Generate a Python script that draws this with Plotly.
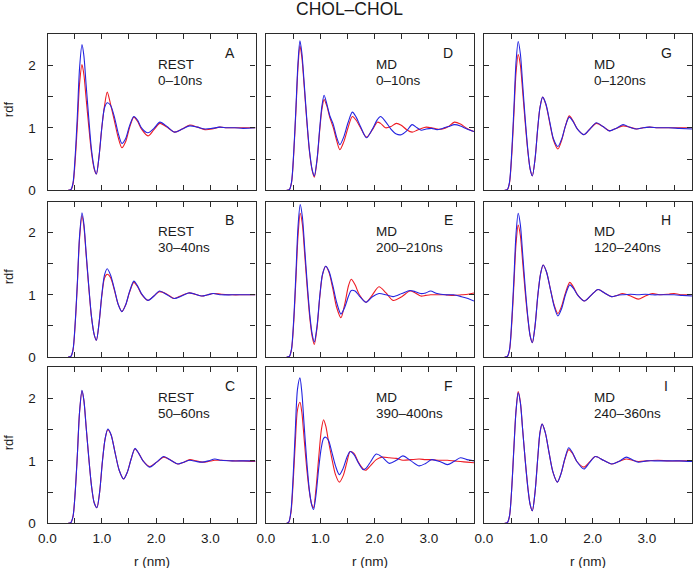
import plotly.graph_objects as go

# ---------------- data ----------------
r_A = [0.38, 0.43, 0.47, 0.51, 0.55, 0.59, 0.635, 0.67, 0.71, 0.76, 0.81, 0.86, 0.90, 0.95, 1.00, 1.05, 1.10, 1.16, 1.23, 1.30, 1.37, 1.44, 1.51, 1.59, 1.66, 1.73, 1.85, 1.96, 2.07, 2.2, 2.34, 2.48, 2.62, 2.76, 2.90, 3.03, 3.17, 3.3, 3.45, 3.6, 3.83]
red_A = [0, 0.01, 0.10, 0.48, 1.05, 1.70, 2.01, 1.85, 1.48, 1.02, 0.6, 0.34, 0.26, 0.55, 1.0, 1.35, 1.57, 1.38, 1.12, 0.85, 0.68, 0.78, 1.0, 1.17, 1.1, 0.98, 0.87, 0.97, 1.07, 1.01, 0.93, 0.98, 1.045, 1.01, 0.97, 0.98, 1.01, 1.0, 1.0, 1.0, 1.0]
blue_A = [0, 0.01, 0.12, 0.55, 1.2, 1.95, 2.33, 2.15, 1.7, 1.15, 0.65, 0.36, 0.26, 0.55, 1.0, 1.32, 1.40, 1.36, 1.18, 0.92, 0.75, 0.83, 1.03, 1.18, 1.12, 1.0, 0.92, 0.99, 1.09, 1.02, 0.93, 0.98, 1.03, 1.01, 0.98, 0.99, 1.01, 1.0, 1.0, 0.99, 1.0]

r_B = [0.38, 0.43, 0.47, 0.51, 0.55, 0.59, 0.635, 0.67, 0.71, 0.76, 0.81, 0.86, 0.90, 0.95, 1.00, 1.05, 1.10, 1.16, 1.23, 1.30, 1.37, 1.44, 1.51, 1.59, 1.66, 1.73, 1.85, 1.96, 2.06, 2.2, 2.33, 2.47, 2.60, 2.72, 2.84, 2.95, 3.05, 3.2, 3.4, 3.6, 3.83]
red_B = [0, 0.01, 0.11, 0.53, 1.17, 1.9, 2.27, 2.1, 1.66, 1.12, 0.64, 0.36, 0.27, 0.55, 0.98, 1.27, 1.33, 1.28, 1.08, 0.85, 0.73, 0.84, 1.04, 1.20, 1.13, 1.01, 0.91, 0.98, 1.05, 1.01, 0.94, 0.99, 1.03, 1.01, 0.98, 1.0, 1.02, 1.01, 1.0, 1.0, 1.0]
blue_B = [0, 0.01, 0.12, 0.55, 1.2, 1.94, 2.32, 2.14, 1.69, 1.14, 0.65, 0.36, 0.27, 0.55, 1.0, 1.32, 1.42, 1.32, 1.1, 0.85, 0.73, 0.84, 1.05, 1.22, 1.14, 1.02, 0.91, 0.98, 1.06, 1.0, 0.94, 0.98, 1.03, 1.01, 0.98, 1.0, 1.02, 1.0, 1.0, 1.0, 1.0]

r_C = [0.38, 0.43, 0.47, 0.51, 0.55, 0.59, 0.635, 0.67, 0.71, 0.76, 0.81, 0.86, 0.91, 0.96, 1.01, 1.06, 1.11, 1.17, 1.24, 1.32, 1.40, 1.47, 1.54, 1.61, 1.68, 1.76, 1.88, 2.01, 2.14, 2.27, 2.40, 2.51, 2.62, 2.74, 2.85, 2.96, 3.08, 3.2, 3.4, 3.6, 3.83]
red_C = [0, 0.01, 0.11, 0.5, 1.1, 1.78, 2.12, 1.97, 1.56, 1.05, 0.6, 0.33, 0.25, 0.5, 0.98, 1.35, 1.50, 1.42, 1.15, 0.85, 0.71, 0.82, 1.03, 1.19, 1.12, 1.0, 0.91, 0.98, 1.06, 1.01, 0.95, 0.98, 1.02, 1.0, 0.98, 0.99, 1.01, 1.01, 1.0, 1.0, 0.99]
blue_C = [0, 0.01, 0.11, 0.5, 1.1, 1.78, 2.13, 1.97, 1.56, 1.05, 0.6, 0.33, 0.25, 0.5, 0.98, 1.35, 1.51, 1.42, 1.15, 0.85, 0.71, 0.82, 1.03, 1.20, 1.12, 1.0, 0.90, 0.98, 1.07, 1.01, 0.95, 0.98, 1.01, 0.99, 0.98, 1.0, 1.03, 1.01, 1.0, 1.0, 1.0]

r_D = [0.38, 0.43, 0.47, 0.51, 0.55, 0.59, 0.625, 0.66, 0.70, 0.75, 0.80, 0.85, 0.89, 0.94, 0.99, 1.03, 1.07, 1.12, 1.18, 1.24, 1.30, 1.36, 1.43, 1.51, 1.59, 1.66, 1.74, 1.85, 1.96, 2.05, 2.11, 2.2, 2.3, 2.4, 2.49, 2.59, 2.69, 2.78, 2.86, 2.95, 3.05, 3.15, 3.25, 3.36, 3.47, 3.58, 3.7, 3.83]
red_D = [0, 0.01, 0.12, 0.57, 1.25, 1.98, 2.31, 2.13, 1.7, 1.12, 0.62, 0.32, 0.21, 0.48, 0.97, 1.3, 1.45, 1.35, 1.15, 1.0, 0.8, 0.65, 0.77, 1.0, 1.18, 1.12, 1.0, 0.85, 0.97, 1.09, 1.07, 1.0, 1.02, 1.07, 1.04, 0.97, 0.93, 0.96, 0.99, 1.01, 1.0, 0.98, 0.98, 1.02, 1.09, 1.06, 0.99, 0.94]
blue_D = [0, 0.01, 0.13, 0.6, 1.3, 2.05, 2.39, 2.2, 1.75, 1.15, 0.64, 0.33, 0.23, 0.5, 1.0, 1.35, 1.52, 1.38, 1.18, 1.05, 0.85, 0.73, 0.85, 1.08, 1.25, 1.17, 1.02, 0.84, 0.98, 1.13, 1.18, 1.1, 0.98, 0.9, 0.89, 0.95, 1.05, 1.0, 0.96, 0.98, 0.99, 0.97, 0.99, 1.02, 1.05, 1.03, 0.98, 0.94]

r_E = [0.38, 0.43, 0.47, 0.51, 0.55, 0.59, 0.63, 0.67, 0.71, 0.76, 0.81, 0.85, 0.89, 0.94, 0.99, 1.04, 1.10, 1.16, 1.23, 1.30, 1.38, 1.45, 1.52, 1.57, 1.64, 1.72, 1.84, 1.96, 2.08, 2.21, 2.34, 2.5, 2.65, 2.75, 2.85, 2.94, 3.03, 3.15, 3.3, 3.45, 3.6, 3.72, 3.83]
red_E = [0, 0.01, 0.12, 0.55, 1.23, 1.95, 2.31, 2.13, 1.68, 1.1, 0.6, 0.33, 0.20, 0.47, 0.96, 1.32, 1.46, 1.36, 1.1, 0.8, 0.63, 0.85, 1.15, 1.25, 1.16, 1.0, 0.88, 1.0, 1.13, 1.03, 0.91, 0.97, 1.06, 1.03, 0.98, 0.99, 1.0, 1.0, 1.0, 0.99, 1.0, 1.01, 1.03]
blue_E = [0, 0.01, 0.13, 0.6, 1.32, 2.1, 2.45, 2.25, 1.78, 1.17, 0.65, 0.37, 0.24, 0.5, 0.98, 1.33, 1.46, 1.38, 1.15, 0.88, 0.69, 0.8, 0.98, 1.07, 1.06, 0.98, 0.88, 0.97, 1.02, 1.0, 0.97, 1.02, 1.07, 1.05, 1.02, 1.03, 1.06, 1.02, 1.0, 1.0, 0.97, 0.94, 0.90]

r_F = [0.38, 0.42, 0.46, 0.50, 0.54, 0.58, 0.625, 0.66, 0.70, 0.75, 0.80, 0.84, 0.875, 0.92, 0.97, 1.02, 1.06, 1.10, 1.15, 1.21, 1.28, 1.35, 1.42, 1.49, 1.55, 1.62, 1.70, 1.79, 1.84, 1.93, 2.03, 2.14, 2.27, 2.40, 2.52, 2.67, 2.82, 2.94, 3.05, 3.2, 3.34, 3.46, 3.58, 3.7, 3.83]
red_F = [0, 0.02, 0.17, 0.65, 1.3, 1.82, 1.94, 1.78, 1.38, 0.88, 0.5, 0.31, 0.25, 0.55, 1.05, 1.5, 1.66, 1.56, 1.32, 1.05, 0.78, 0.66, 0.76, 0.98, 1.15, 1.12, 0.98, 0.87, 0.85, 0.93, 1.02, 1.06, 1.05, 1.04, 1.01, 1.02, 1.03, 1.02, 1.02, 1.01, 1.01, 1.0, 0.99, 0.98, 0.97]
blue_F = [0, 0.02, 0.2, 0.75, 1.5, 2.15, 2.33, 2.1, 1.6, 1.0, 0.52, 0.3, 0.22, 0.45, 0.88, 1.22, 1.36, 1.38, 1.33, 1.15, 0.92, 0.78, 0.88, 1.06, 1.15, 1.1, 0.97, 0.86, 0.88, 0.99, 1.11, 1.06, 0.96, 1.01, 1.08, 1.0, 0.92, 0.96, 1.02, 0.99, 0.94, 0.99, 1.05, 1.02, 1.0]

r_G = [0.38, 0.43, 0.47, 0.51, 0.55, 0.59, 0.63, 0.67, 0.71, 0.76, 0.81, 0.85, 0.89, 0.94, 0.99, 1.03, 1.08, 1.14, 1.21, 1.28, 1.36, 1.43, 1.50, 1.57, 1.64, 1.72, 1.84, 1.95, 2.07, 2.19, 2.31, 2.43, 2.56, 2.68, 2.81, 2.93, 3.05, 3.2, 3.4, 3.6, 3.83]
red_G = [0, 0.01, 0.12, 0.55, 1.2, 1.88, 2.17, 2.0, 1.6, 1.07, 0.6, 0.34, 0.23, 0.5, 1.0, 1.32, 1.49, 1.37, 1.08, 0.8, 0.66, 0.8, 1.03, 1.19, 1.11, 0.98, 0.89, 0.98, 1.07, 1.02, 0.95, 0.99, 1.03, 1.01, 0.98, 1.0, 1.01, 1.0, 1.0, 1.0, 1.0]
blue_G = [0, 0.01, 0.13, 0.6, 1.3, 2.05, 2.38, 2.18, 1.72, 1.13, 0.62, 0.34, 0.23, 0.5, 1.0, 1.32, 1.49, 1.38, 1.1, 0.82, 0.70, 0.82, 1.03, 1.17, 1.1, 0.98, 0.89, 0.98, 1.08, 1.02, 0.95, 0.99, 1.05, 1.01, 0.98, 1.0, 1.01, 1.0, 1.0, 0.99, 0.98]

r_H = [0.38, 0.43, 0.47, 0.51, 0.55, 0.59, 0.63, 0.67, 0.71, 0.76, 0.81, 0.85, 0.89, 0.94, 0.99, 1.04, 1.09, 1.15, 1.22, 1.29, 1.36, 1.43, 1.50, 1.58, 1.65, 1.73, 1.85, 1.97, 2.10, 2.22, 2.35, 2.45, 2.55, 2.7, 2.84, 2.97, 3.1, 3.25, 3.4, 3.5, 3.65, 3.83]
red_H = [0, 0.01, 0.11, 0.52, 1.15, 1.82, 2.12, 1.95, 1.55, 1.03, 0.6, 0.34, 0.23, 0.5, 0.98, 1.33, 1.48, 1.37, 1.1, 0.84, 0.70, 0.82, 1.03, 1.20, 1.12, 0.99, 0.90, 0.99, 1.085, 1.03, 0.97, 0.99, 1.02, 0.98, 0.93, 0.98, 1.02, 1.0, 1.01, 1.02, 1.0, 1.0]
blue_H = [0, 0.01, 0.12, 0.57, 1.25, 1.98, 2.31, 2.12, 1.68, 1.11, 0.62, 0.34, 0.23, 0.5, 0.98, 1.33, 1.48, 1.37, 1.1, 0.82, 0.66, 0.78, 1.0, 1.16, 1.1, 0.99, 0.90, 0.99, 1.085, 1.03, 0.97, 0.99, 1.0, 1.01, 1.0, 1.01, 1.0, 1.0, 1.0, 1.0, 0.99, 0.98]

r_I = [0.38, 0.43, 0.47, 0.51, 0.55, 0.59, 0.63, 0.67, 0.71, 0.76, 0.81, 0.85, 0.89, 0.94, 0.99, 1.03, 1.07, 1.13, 1.20, 1.27, 1.35, 1.42, 1.49, 1.56, 1.63, 1.71, 1.84, 1.94, 2.05, 2.2, 2.35, 2.48, 2.62, 2.73, 2.84, 3.0, 3.2, 3.4, 3.6, 3.83]
red_I = [0, 0.01, 0.12, 0.55, 1.2, 1.81, 2.11, 1.94, 1.52, 1.0, 0.55, 0.3, 0.20, 0.5, 1.05, 1.45, 1.59, 1.45, 1.12, 0.82, 0.66, 0.8, 1.03, 1.18, 1.12, 0.99, 0.90, 0.98, 1.07, 1.01, 0.95, 0.99, 1.03, 1.01, 0.99, 1.0, 1.01, 1.0, 1.0, 1.0]
blue_I = [0, 0.01, 0.12, 0.55, 1.2, 1.8, 2.09, 1.93, 1.52, 1.0, 0.55, 0.3, 0.20, 0.5, 1.05, 1.45, 1.59, 1.45, 1.12, 0.82, 0.66, 0.8, 1.04, 1.21, 1.13, 0.99, 0.87, 0.97, 1.07, 1.01, 0.95, 0.99, 1.06, 1.02, 0.98, 1.0, 1.0, 1.0, 1.0, 0.99]

panel_letters = ["A", "B", "C", "D", "E", "F", "G", "H", "I"]
method_labels = ["REST", "REST", "REST", "MD", "MD", "MD", "MD", "MD", "MD"]
time_labels = ["0–10ns", "30–40ns", "50–60ns", "0–10ns", "200–210ns", "390–400ns",
               "0–120ns", "120–240ns", "240–360ns"]
x_tick_vals = [0, 0.5, 1.0, 1.5, 2.0, 2.5, 3.0, 3.5]
x_tick_text = ["0.0", "", "1.0", "", "2.0", "", "3.0", ""]
y_tick_vals = [0, 0.5, 1, 1.5, 2]
y_tick_text = ["0", "", "1", "", "2"]
title_text = "CHOL–CHOL"
x_title = "r (nm)"
y_title = "rdf"

panels = [
    (r_A, red_A, blue_A), (r_B, red_B, blue_B), (r_C, red_C, blue_C),
    (r_D, red_D, blue_D), (r_E, red_E, blue_E), (r_F, red_F, blue_F),
    (r_G, red_G, blue_G), (r_H, red_H, blue_H), (r_I, red_I, blue_I),
]

# ---------------- layout ----------------
W, H = 693, 568
col_px = [(47.5, 255.5), (266.0, 474.0), (484.0, 692.0)]
row_px = [(34.0, 190.3), (201.5, 357.0), (367.3, 523.3)]
RED = "#ee1c24"
BLUE = "#2424e0"
AX = "#2b2b2b"
TXT = "#1a1a1a"
FONT = "Liberation Sans, Arial, Helvetica, sans-serif"

fig = go.Figure()
layout = dict(
    width=W, height=H, margin=dict(l=0, r=0, t=0, b=0, autoexpand=False),
    paper_bgcolor="white", plot_bgcolor="white", showlegend=False,
    font=dict(family=FONT, size=13, color=TXT),
)
annotations = []

for idx, (r, red, blue) in enumerate(panels):
    col = idx // 3
    row = idx % 3
    n = idx + 1
    xa = "x" if n == 1 else f"x{n}"
    ya = "y" if n == 1 else f"y{n}"
    for vals, color in ((red, RED), (blue, BLUE)):
        fig.add_trace(go.Scatter(
            x=r, y=vals, mode="lines", xaxis=xa, yaxis=ya,
            line=dict(color=color, width=1.1, shape="spline", smoothing=0.8),
            hoverinfo="skip",
        ))
    x0, x1 = col_px[col]
    yt, yb = row_px[row]
    xdom = [x0 / W, x1 / W]
    ydom = [1 - yb / H, 1 - yt / H]
    common = dict(showline=True, mirror="ticks", linecolor=AX, linewidth=1.3,
                  ticks="inside", ticklen=5, tickwidth=1.2, tickcolor=AX,
                  showgrid=False, zeroline=False, fixedrange=True, automargin=False,
                  tickfont=dict(family=FONT, size=13.5, color=TXT))
    layout["xaxis" if n == 1 else f"xaxis{n}"] = dict(
        domain=xdom, range=[0, 3.83], anchor=ya,
        tickmode="array", tickvals=x_tick_vals, ticktext=x_tick_text,
        showticklabels=(row == 2), ticklabelstandoff=2, **common)
    layout["yaxis" if n == 1 else f"yaxis{n}"] = dict(
        domain=ydom, range=[0, 2.5], anchor=xa,
        tickmode="array", tickvals=y_tick_vals, ticktext=y_tick_text,
        showticklabels=(col == 0), ticklabelstandoff=8, **common)

    xd = f"{xa} domain"
    yd = f"{ya} domain"
    annotations.append(dict(text=panel_letters[idx], xref=xd, yref=yd,
                            x=1 - 26 / 208, y=1 - 19 / 156, xanchor="center",
                            yanchor="middle", showarrow=False,
                            font=dict(family=FONT, size=14, color=TXT)))
    annotations.append(dict(text=method_labels[idx], xref=xd, yref=yd,
                            x=0.52, y=1 - 30.5 / 156, xanchor="left",
                            yanchor="middle", showarrow=False,
                            font=dict(family=FONT, size=13.5, color=TXT)))
    annotations.append(dict(text=time_labels[idx], xref=xd, yref=yd,
                            x=0.52, y=1 - 46 / 156, xanchor="left",
                            yanchor="middle", showarrow=False,
                            font=dict(family=FONT, size=13.5, color=TXT)))

for row in range(3):
    yt, yb = row_px[row]
    annotations.append(dict(text=y_title, xref="paper", yref="paper",
                            x=8 / W, y=1 - ((yt + yb) / 2 - 3) / H, textangle=-90,
                            xanchor="center", yanchor="middle", showarrow=False,
                            font=dict(family=FONT, size=13, color=TXT)))
for col in range(3):
    x0, x1 = col_px[col]
    annotations.append(dict(text=x_title, xref="paper", yref="paper",
                            x=(x0 + x1) / 2 / W, y=1 - 561 / H,
                            xanchor="center", yanchor="middle", showarrow=False,
                            font=dict(family=FONT, size=13.5, color=TXT)))
annotations.append(dict(text=title_text, xref="paper", yref="paper",
                        x=349 / W, y=1 - 9 / H, xanchor="center", yanchor="middle",
                        showarrow=False,
                        font=dict(family=FONT, size=17.5, color=TXT)))

layout["annotations"] = annotations
fig.update_layout(**layout)
fig.write_html("out.html", config={"displayModeBar": False},
               post_script="document.body.style.margin='0';"
                           "document.documentElement.style.overflow='hidden';")
